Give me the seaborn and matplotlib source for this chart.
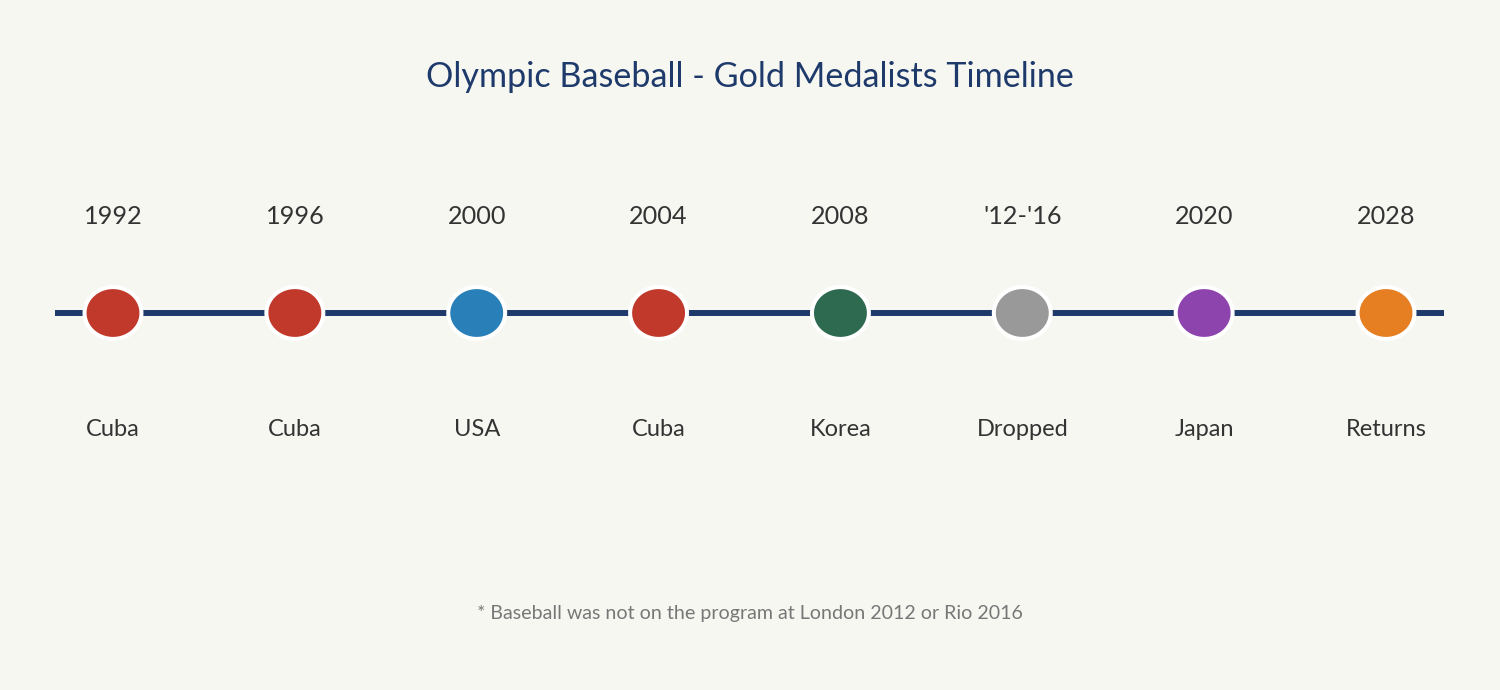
import matplotlib
matplotlib.use("Agg")
import matplotlib.pyplot as plt
import seaborn as sns
import numpy as np
import pandas as pd

years = ["1992", "1996", "2000", "2004", "2008", "'12-'16", "2020", "2028"]
winners = ["Cuba", "Cuba", "USA", "Cuba", "Korea", "Dropped", "Japan", "Returns"]
colors = ["#C0392B", "#C0392B", "#2980B9", "#C0392B", "#2D6A4F", "#999999", "#8E44AD", "#E67E22"]
title = "Olympic Baseball - Gold Medalists Timeline"
footnote = "* Baseball was not on the program at London 2012 or Rio 2016"

BG = "#F7F7F2"
NAVY = "#1E3A6B"

sns.set_theme(style="white")
plt.rcParams["font.family"] = ["Lato", "DejaVu Sans"]

df = pd.DataFrame({"pos": np.arange(len(years)), "y": 0.0, "year": years, "winner": winners})

fig = plt.figure(figsize=(15, 6.9), dpi=100, facecolor=BG)
ax = fig.add_axes([0, 0, 1, 1])
ax.set_facecolor(BG)
step = 181.86
ax.set_xlim(-113 / step, (1500 - 113) / step)
ax.set_ylim(-(690 - 313), 313)
ax.axis("off")

# timeline line
ext = 58 / step
ax.plot([df.pos.min() - ext, df.pos.max() + ext], [0, 0], color=NAVY, lw=4.3,
        solid_capstyle="butt", zorder=1)

# ellipse marker
t = np.linspace(0, 2 * np.pi, 100)
verts = np.column_stack([np.cos(t), 0.91 * np.sin(t)])
sns.scatterplot(data=df, x="pos", y="y", hue="pos", palette=colors, marker=verts,
                s=41 ** 2, edgecolor="white", linewidth=2.9, legend=False, ax=ax, zorder=3)

for i, row in df.iterrows():
    ax.text(row.pos, 313 - 216, row.year, ha="center", va="center", fontsize=18.2,
            color="#333333")
    ax.text(row.pos, 313 - 429, row.winner, ha="center", va="center", fontsize=17,
            color="#333333")

fig.text(0.5, 1 - 77 / 690, title, ha="center", va="center", fontsize=24.6, color=NAVY)
fig.text(0.5, 1 - 613 / 690, footnote, ha="center", va="center", fontsize=14.1, color="#777777")

fig.savefig("out.png", dpi=100, facecolor=BG)
